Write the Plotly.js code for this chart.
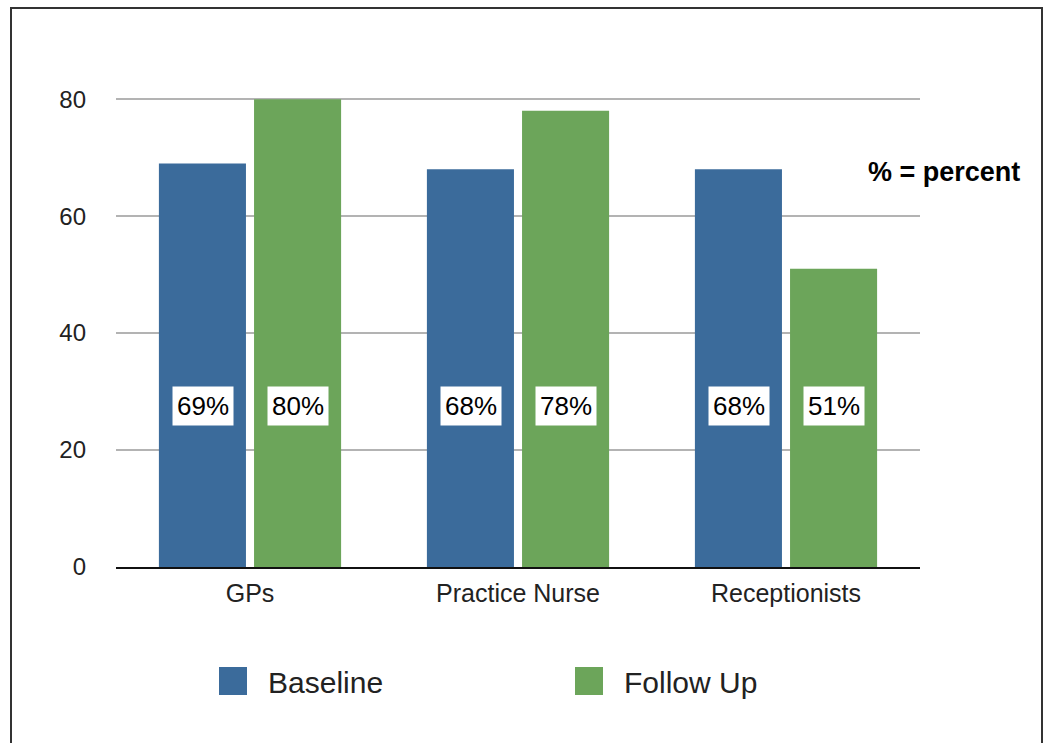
<!DOCTYPE html>
<html>
<head>
<meta charset="utf-8">
<script src="https://cdn.plot.ly/plotly-3.0.1.min.js"></script>
<style>html,body{margin:0;padding:0;background:#fff;}#chart{width:1049px;height:743px;}</style>
</head>
<body>
<div id="chart"></div>
<script>
const categories = ["GPs", "Practice Nurse", "Receptionists"];
const seriesNames = ["Baseline", "Follow Up"];
const baselineValues = [69, 68, 68];
const followUpValues = [80, 78, 51];
const baselineLabels = ["69%", "68%", "68%"];
const followUpLabels = ["80%", "78%", "51%"];
const yTickVals = [0, 20, 40, 60, 80];
const noteText = "% = percent";

const BLUE = "#3b6b9b";
const GREEN = "#6ca55a";
const FONT = "Liberation Sans, Arial, Helvetica, sans-serif";

const traces = [
  {type: "bar", name: seriesNames[0], x: categories, y: baselineValues,
   marker: {color: BLUE}, hoverinfo: "skip"},
  {type: "bar", name: seriesNames[1], x: categories, y: followUpValues,
   marker: {color: GREEN}, hoverinfo: "skip"}
];

const LABEL_Y = 27.5;
const annotations = [];
categories.forEach((c, i) => {
  annotations.push({x: c, y: LABEL_Y, xref: "x", yref: "y", xshift: -47.5,
    text: baselineLabels[i], showarrow: false, bgcolor: "#ffffff", borderpad: 4,
    font: {family: FONT, size: 26, color: "#000"}});
  annotations.push({x: c, y: LABEL_Y, xref: "x", yref: "y", xshift: 47.5,
    text: followUpLabels[i], showarrow: false, bgcolor: "#ffffff", borderpad: 4,
    font: {family: FONT, size: 26, color: "#000"}});
});
// plot area: x 116..920, y 98..567
annotations.push({xref: "paper", yref: "paper", x: (866 - 116)/804, y: (567 - 172)/469,
  xanchor: "left", yanchor: "middle", text: "<b>" + noteText + "</b>", showarrow: false,
  font: {family: FONT, size: 27, color: "#000"}});

const layout = {
  width: 1049, height: 743,
  margin: {l: 116, r: 129, t: 98, b: 176, pad: 0},
  paper_bgcolor: "#ffffff", plot_bgcolor: "#ffffff",
  font: {family: FONT, color: "#222"},
  barmode: "group", bargap: 0.29, bargroupgap: 0.085,
  xaxis: {type: "category", showline: true, linecolor: "#111", linewidth: 2,
    ticks: "", showgrid: false, zeroline: false, ticklabelstandoff: 3,
    tickfont: {family: FONT, size: 25, color: "#222"}},
  yaxis: {range: [0, 80.2], tickvals: yTickVals, showgrid: true, gridcolor: "#b3b3b3",
    gridwidth: 2, zeroline: false, showline: false, ticks: "", ticklabelstandoff: 29,
    tickfont: {family: FONT, size: 24, color: "#222"}},
  showlegend: true,
  legend: {orientation: "h", xref: "container", yref: "container",
    x: 198/1049, y: 1 - 681/743, xanchor: "left", yanchor: "middle",
    entrywidth: 281, entrywidthmode: "pixels", itemwidth: 60,
    font: {family: FONT, size: 30, color: "#222"}, bgcolor: "rgba(0,0,0,0)"},
  annotations: annotations,
  shapes: [{type: "rect", xref: "paper", yref: "paper",
    x0: (11 - 116)/804, x1: (1042 - 116)/804, y0: (567 - 800)/469, y1: (567 - 8)/469,
    line: {color: "#333", width: 2}, fillcolor: "rgba(0,0,0,0)", layer: "above"}]
};

Plotly.newPlot("chart", traces, layout, {staticPlot: true, displayModeBar: false}).then(gd => {
  gd.querySelectorAll(".legend .legendpoints path").forEach(p => {
    p.setAttribute("d", "M14,14H-14V-14H14Z");
  });
});
</script>
</body>
</html>
